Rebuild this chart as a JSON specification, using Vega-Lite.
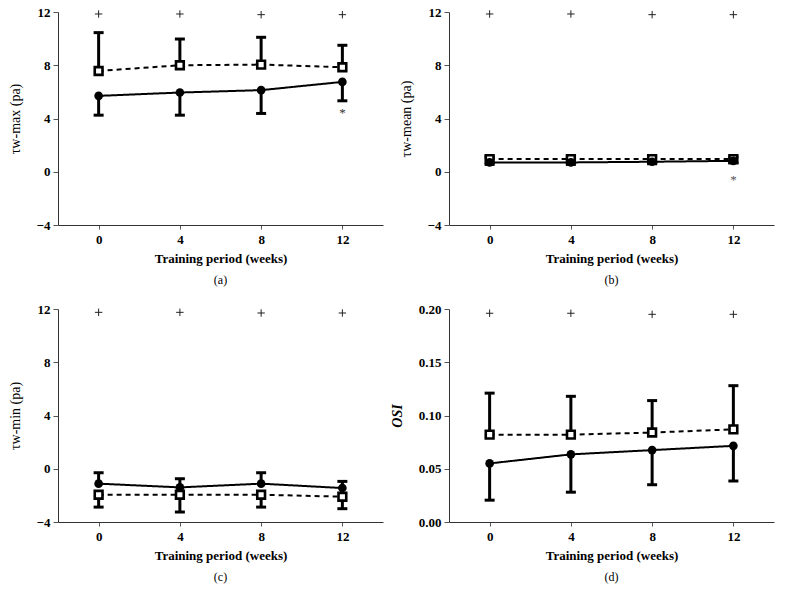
{
  "$schema": "https://vega.github.io/schema/vega-lite/v6.json",
  "background": "white",
  "padding": {"left": 8, "top": 6, "right": 5, "bottom": 5},
  "config": {
    "font": "Liberation Serif",
    "view": {"stroke": null},
    "axis": {
      "grid": false,
      "domainColor": "#333",
      "tickColor": "#555",
      "labelFont": "Liberation Serif",
      "labelFontWeight": "bold",
      "labelFontSize": 13,
      "labelColor": "black",
      "titleFont": "Liberation Serif",
      "titleColor": "black"
    },
    "axisX": {"tickSize": 4, "labelPadding": 4, "titleFontSize": 13, "titleFontWeight": "bold", "titlePadding": 6},
    "axisY": {"tickSize": 5, "labelPadding": 3, "titleFontSize": 14, "titleFontWeight": "normal", "titlePadding": 14},
    "title": {"orient": "bottom", "fontSize": 12, "fontWeight": "normal", "font": "Liberation Serif", "offset": 10, "color": "black"}
  },
  "datasets": {
    "a": [
      {"week": 0, "series": "sq", "value": 7.57, "bar": 10.45},
      {"week": 4, "series": "sq", "value": 8.0, "bar": 9.97},
      {"week": 8, "series": "sq", "value": 8.05, "bar": 10.1},
      {"week": 12, "series": "sq", "value": 7.85, "bar": 9.5},
      {"week": 0, "series": "ci", "value": 5.7, "bar": 4.25},
      {"week": 4, "series": "ci", "value": 5.95, "bar": 4.25},
      {"week": 8, "series": "ci", "value": 6.13, "bar": 4.38},
      {"week": 12, "series": "ci", "value": 6.75, "bar": 5.33}
    ],
    "aplus": [{"week": 0, "y": 11.85}, {"week": 4, "y": 11.85}, {"week": 8, "y": 11.8}, {"week": 12, "y": 11.8}],
    "astar": [{"week": 12, "y": 4.45}],
    "b": [
      {"week": 0, "series": "sq", "value": 0.95, "bar": 1.1},
      {"week": 4, "series": "sq", "value": 0.95, "bar": 1.1},
      {"week": 8, "series": "sq", "value": 0.95, "bar": 1.1},
      {"week": 12, "series": "sq", "value": 0.95, "bar": 1.1},
      {"week": 0, "series": "ci", "value": 0.7, "bar": 0.55},
      {"week": 4, "series": "ci", "value": 0.7, "bar": 0.55},
      {"week": 8, "series": "ci", "value": 0.75, "bar": 0.6},
      {"week": 12, "series": "ci", "value": 0.82, "bar": 0.67}
    ],
    "bplus": [{"week": 0, "y": 11.85}, {"week": 4, "y": 11.85}, {"week": 8, "y": 11.8}, {"week": 12, "y": 11.8}],
    "bstar": [{"week": 12, "y": -0.65}],
    "c": [
      {"week": 0, "series": "sq", "value": -1.95, "bar": -2.88},
      {"week": 4, "series": "sq", "value": -1.95, "bar": -3.25},
      {"week": 8, "series": "sq", "value": -1.95, "bar": -2.88},
      {"week": 12, "series": "sq", "value": -2.1, "bar": -3.0},
      {"week": 0, "series": "ci", "value": -1.12, "bar": -0.3},
      {"week": 4, "series": "ci", "value": -1.4, "bar": -0.75},
      {"week": 8, "series": "ci", "value": -1.12, "bar": -0.3},
      {"week": 12, "series": "ci", "value": -1.45, "bar": -0.95}
    ],
    "cplus": [{"week": 0, "y": 11.75}, {"week": 4, "y": 11.75}, {"week": 8, "y": 11.7}, {"week": 12, "y": 11.7}],
    "d": [
      {"week": 0, "series": "sq", "value": 0.082, "bar": 0.121},
      {"week": 4, "series": "sq", "value": 0.082, "bar": 0.118},
      {"week": 8, "series": "sq", "value": 0.084, "bar": 0.114},
      {"week": 12, "series": "sq", "value": 0.087, "bar": 0.128},
      {"week": 0, "series": "ci", "value": 0.055, "bar": 0.0205},
      {"week": 4, "series": "ci", "value": 0.0635, "bar": 0.028},
      {"week": 8, "series": "ci", "value": 0.0675, "bar": 0.035},
      {"week": 12, "series": "ci", "value": 0.0715, "bar": 0.0385}
    ],
    "dplus": [{"week": 0, "y": 0.196}, {"week": 4, "y": 0.196}, {"week": 8, "y": 0.195}, {"week": 12, "y": 0.195}]
  },
  "columns": 2,
  "spacing": {"row": 17, "column": 7},
  "concat": [
    {
      "title": "(a)",
      "width": 325,
      "height": 213,
      "layer": [
        {
          "data": {"name": "a"},
          "mark": {"type": "rule", "strokeWidth": 3, "color": "black"},
          "encoding": {
            "x": {"field": "week", "type": "quantitative", "scale": {"domain": [-2, 14]}, "axis": {"values": [0, 4, 8, 12], "title": "Training period (weeks)"}},
            "y": {"field": "value", "type": "quantitative", "scale": {"domain": [-4, 12]}, "axis": {"values": [-4, 0, 4, 8, 12], "title": "τw-max (pa)", "format": "d"}},
            "y2": {"field": "bar"}
          }
        },
        {
          "mark": {"type": "rule", "strokeDash": [1.5, 2], "color": "#555", "strokeWidth": 1},
          "encoding": {"y": {"datum": 0}}
        },
        {
          "data": {"name": "a"},
          "mark": {"type": "tick", "orient": "horizontal", "size": 10, "thickness": 3, "color": "black", "opacity": 1},
          "encoding": {"x": {"field": "week", "type": "quantitative"}, "y": {"field": "bar", "type": "quantitative"}}
        },
        {
          "data": {"name": "a"},
          "mark": {"type": "line", "color": "black", "strokeWidth": 2},
          "encoding": {
            "x": {"field": "week", "type": "quantitative"},
            "y": {"field": "value", "type": "quantitative"},
            "strokeDash": {"field": "series", "type": "nominal", "scale": {"domain": ["sq", "ci"], "range": [[5, 4], [1, 0]]}, "legend": null}
          }
        },
        {
          "data": {"name": "a"},
          "transform": [{"filter": "datum.series === 'sq'"}],
          "mark": {"type": "point", "shape": "square", "filled": true, "fill": "white", "stroke": "black", "strokeWidth": 2.6, "size": 60, "opacity": 1},
          "encoding": {"x": {"field": "week", "type": "quantitative"}, "y": {"field": "value", "type": "quantitative"}}
        },
        {
          "data": {"name": "a"},
          "transform": [{"filter": "datum.series === 'ci'"}],
          "mark": {"type": "point", "shape": "circle", "filled": true, "color": "black", "size": 75, "opacity": 1},
          "encoding": {"x": {"field": "week", "type": "quantitative"}, "y": {"field": "value", "type": "quantitative"}}
        },
        {
          "data": {"name": "aplus"},
          "mark": {"type": "point", "shape": "M-1,0H1M0,-1V1", "filled": false, "stroke": "#222", "strokeWidth": 1, "size": 55, "opacity": 1},
          "encoding": {"x": {"field": "week", "type": "quantitative"}, "y": {"field": "y", "type": "quantitative"}}
        },
        {
          "data": {"name": "astar"},
          "mark": {"type": "text", "text": "*", "fontSize": 13, "color": "#333", "font": "Liberation Serif"},
          "encoding": {"x": {"field": "week", "type": "quantitative"}, "y": {"field": "y", "type": "quantitative"}}
        }
      ]
    },
    {
      "title": "(b)",
      "width": 325,
      "height": 213,
      "layer": [
        {
          "data": {"name": "b"},
          "mark": {"type": "rule", "strokeWidth": 3, "color": "black"},
          "encoding": {
            "x": {"field": "week", "type": "quantitative", "scale": {"domain": [-2, 14]}, "axis": {"values": [0, 4, 8, 12], "title": "Training period (weeks)"}},
            "y": {"field": "value", "type": "quantitative", "scale": {"domain": [-4, 12]}, "axis": {"values": [-4, 0, 4, 8, 12], "title": "τw-mean (pa)", "format": "d"}},
            "y2": {"field": "bar"}
          }
        },
        {
          "mark": {"type": "rule", "strokeDash": [1.5, 2], "color": "#555", "strokeWidth": 1},
          "encoding": {"y": {"datum": 0}}
        },
        {
          "data": {"name": "b"},
          "mark": {"type": "tick", "orient": "horizontal", "size": 10, "thickness": 3, "color": "black", "opacity": 1},
          "encoding": {"x": {"field": "week", "type": "quantitative"}, "y": {"field": "bar", "type": "quantitative"}}
        },
        {
          "data": {"name": "b"},
          "mark": {"type": "line", "color": "black", "strokeWidth": 2},
          "encoding": {
            "x": {"field": "week", "type": "quantitative"},
            "y": {"field": "value", "type": "quantitative"},
            "strokeDash": {"field": "series", "type": "nominal", "scale": {"domain": ["sq", "ci"], "range": [[5, 4], [1, 0]]}, "legend": null}
          }
        },
        {
          "data": {"name": "b"},
          "transform": [{"filter": "datum.series === 'sq'"}],
          "mark": {"type": "point", "shape": "square", "filled": true, "fill": "white", "stroke": "black", "strokeWidth": 2.6, "size": 60, "opacity": 1},
          "encoding": {"x": {"field": "week", "type": "quantitative"}, "y": {"field": "value", "type": "quantitative"}}
        },
        {
          "data": {"name": "b"},
          "transform": [{"filter": "datum.series === 'ci'"}],
          "mark": {"type": "point", "shape": "circle", "filled": true, "color": "black", "size": 75, "opacity": 1},
          "encoding": {"x": {"field": "week", "type": "quantitative"}, "y": {"field": "value", "type": "quantitative"}}
        },
        {
          "data": {"name": "bplus"},
          "mark": {"type": "point", "shape": "M-1,0H1M0,-1V1", "filled": false, "stroke": "#222", "strokeWidth": 1, "size": 55, "opacity": 1},
          "encoding": {"x": {"field": "week", "type": "quantitative"}, "y": {"field": "y", "type": "quantitative"}}
        },
        {
          "data": {"name": "bstar"},
          "mark": {"type": "text", "text": "*", "fontSize": 13, "color": "#555", "font": "Liberation Serif"},
          "encoding": {"x": {"field": "week", "type": "quantitative"}, "y": {"field": "y", "type": "quantitative"}}
        }
      ]
    },
    {
      "title": "(c)",
      "width": 325,
      "height": 213,
      "layer": [
        {
          "data": {"name": "c"},
          "mark": {"type": "rule", "strokeWidth": 3, "color": "black"},
          "encoding": {
            "x": {"field": "week", "type": "quantitative", "scale": {"domain": [-2, 14]}, "axis": {"values": [0, 4, 8, 12], "title": "Training period (weeks)"}},
            "y": {"field": "value", "type": "quantitative", "scale": {"domain": [-4, 12]}, "axis": {"values": [-4, 0, 4, 8, 12], "title": "τw-min (pa)", "format": "d"}},
            "y2": {"field": "bar"}
          }
        },
        {
          "mark": {"type": "rule", "strokeDash": [1.5, 2], "color": "#555", "strokeWidth": 1},
          "encoding": {"y": {"datum": 0}}
        },
        {
          "data": {"name": "c"},
          "mark": {"type": "tick", "orient": "horizontal", "size": 10, "thickness": 3, "color": "black", "opacity": 1},
          "encoding": {"x": {"field": "week", "type": "quantitative"}, "y": {"field": "bar", "type": "quantitative"}}
        },
        {
          "data": {"name": "c"},
          "mark": {"type": "line", "color": "black", "strokeWidth": 2},
          "encoding": {
            "x": {"field": "week", "type": "quantitative"},
            "y": {"field": "value", "type": "quantitative"},
            "strokeDash": {"field": "series", "type": "nominal", "scale": {"domain": ["sq", "ci"], "range": [[5, 4], [1, 0]]}, "legend": null}
          }
        },
        {
          "data": {"name": "c"},
          "transform": [{"filter": "datum.series === 'sq'"}],
          "mark": {"type": "point", "shape": "square", "filled": true, "fill": "white", "stroke": "black", "strokeWidth": 2.6, "size": 60, "opacity": 1},
          "encoding": {"x": {"field": "week", "type": "quantitative"}, "y": {"field": "value", "type": "quantitative"}}
        },
        {
          "data": {"name": "c"},
          "transform": [{"filter": "datum.series === 'ci'"}],
          "mark": {"type": "point", "shape": "circle", "filled": true, "color": "black", "size": 75, "opacity": 1},
          "encoding": {"x": {"field": "week", "type": "quantitative"}, "y": {"field": "value", "type": "quantitative"}}
        },
        {
          "data": {"name": "cplus"},
          "mark": {"type": "point", "shape": "M-1,0H1M0,-1V1", "filled": false, "stroke": "#222", "strokeWidth": 1, "size": 55, "opacity": 1},
          "encoding": {"x": {"field": "week", "type": "quantitative"}, "y": {"field": "y", "type": "quantitative"}}
        }
      ]
    },
    {
      "title": "(d)",
      "width": 325,
      "height": 213,
      "layer": [
        {
          "data": {"name": "d"},
          "mark": {"type": "rule", "strokeWidth": 3, "color": "black"},
          "encoding": {
            "x": {"field": "week", "type": "quantitative", "scale": {"domain": [-2, 14]}, "axis": {"values": [0, 4, 8, 12], "title": "Training period (weeks)"}},
            "y": {"field": "value", "type": "quantitative", "scale": {"domain": [0, 0.2]}, "axis": {"values": [0, 0.05, 0.1, 0.15, 0.2], "title": "OSI", "format": ".2f", "titleFontStyle": "italic", "titleFontWeight": "bold"}},
            "y2": {"field": "bar"}
          }
        },
        {
          "data": {"name": "d"},
          "mark": {"type": "tick", "orient": "horizontal", "size": 10, "thickness": 3, "color": "black", "opacity": 1},
          "encoding": {"x": {"field": "week", "type": "quantitative"}, "y": {"field": "bar", "type": "quantitative"}}
        },
        {
          "data": {"name": "d"},
          "mark": {"type": "line", "color": "black", "strokeWidth": 2},
          "encoding": {
            "x": {"field": "week", "type": "quantitative"},
            "y": {"field": "value", "type": "quantitative"},
            "strokeDash": {"field": "series", "type": "nominal", "scale": {"domain": ["sq", "ci"], "range": [[5, 4], [1, 0]]}, "legend": null}
          }
        },
        {
          "data": {"name": "d"},
          "transform": [{"filter": "datum.series === 'sq'"}],
          "mark": {"type": "point", "shape": "square", "filled": true, "fill": "white", "stroke": "black", "strokeWidth": 2.6, "size": 60, "opacity": 1},
          "encoding": {"x": {"field": "week", "type": "quantitative"}, "y": {"field": "value", "type": "quantitative"}}
        },
        {
          "data": {"name": "d"},
          "transform": [{"filter": "datum.series === 'ci'"}],
          "mark": {"type": "point", "shape": "circle", "filled": true, "color": "black", "size": 75, "opacity": 1},
          "encoding": {"x": {"field": "week", "type": "quantitative"}, "y": {"field": "value", "type": "quantitative"}}
        },
        {
          "data": {"name": "dplus"},
          "mark": {"type": "point", "shape": "M-1,0H1M0,-1V1", "filled": false, "stroke": "#222", "strokeWidth": 1, "size": 55, "opacity": 1},
          "encoding": {"x": {"field": "week", "type": "quantitative"}, "y": {"field": "y", "type": "quantitative"}}
        }
      ]
    }
  ]
}
